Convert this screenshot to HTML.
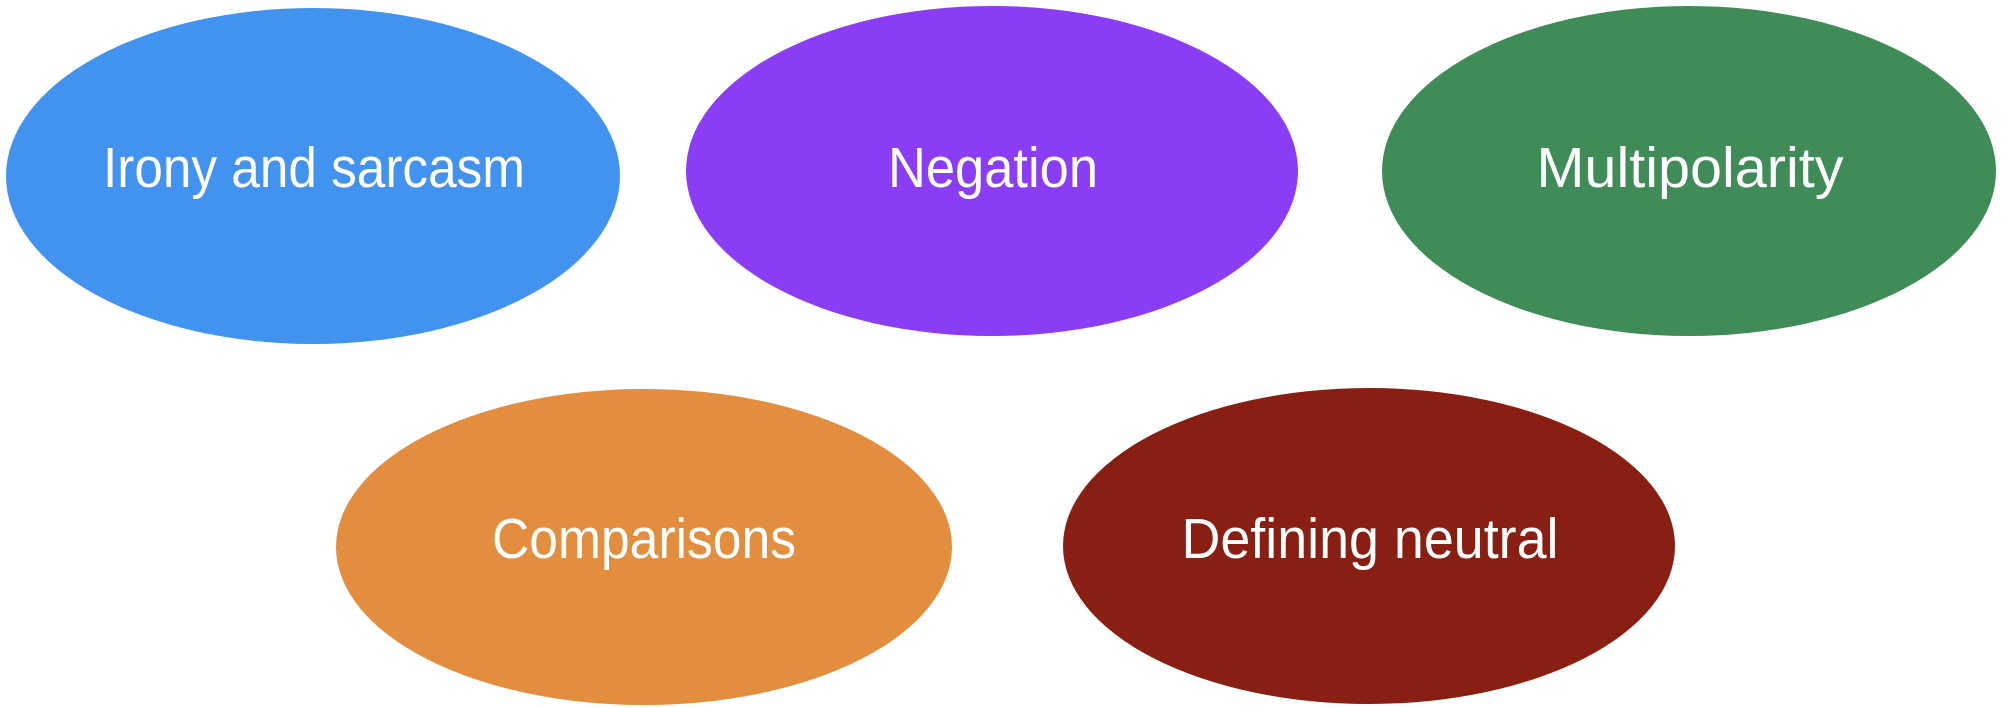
<!DOCTYPE html>
<html><head><meta charset="utf-8"><style>html,body{margin:0;padding:0;background:#fff;}svg{display:block}</style></head>
<body>
<svg width="2002" height="708" viewBox="0 0 2002 708" xmlns="http://www.w3.org/2000/svg">
<g font-family="Liberation Sans, DejaVu Sans, sans-serif" font-size="57" fill="#fff" text-anchor="middle">
<ellipse cx="313" cy="176" rx="307" ry="168" fill="#4293F0"/>
<ellipse cx="992" cy="171" rx="306" ry="165" fill="#8B3CF5"/>
<ellipse cx="1689" cy="171" rx="307" ry="165" fill="#3F8C58"/>
<ellipse cx="644" cy="547" rx="308" ry="158" fill="#E38D3E"/>
<ellipse cx="1369" cy="546" rx="306" ry="158" fill="#891F12"/>
<text x="314" y="187" textLength="422" lengthAdjust="spacingAndGlyphs">Irony and sarcasm</text>
<text x="993" y="187" textLength="210" lengthAdjust="spacingAndGlyphs">Negation</text>
<text x="1690" y="187" textLength="307" lengthAdjust="spacingAndGlyphs">Multipolarity</text>
<text x="644" y="558" textLength="304" lengthAdjust="spacingAndGlyphs">Comparisons</text>
<text x="1370" y="558" textLength="377" lengthAdjust="spacingAndGlyphs">Defining neutral</text>
</g>
</svg>
</body></html>
